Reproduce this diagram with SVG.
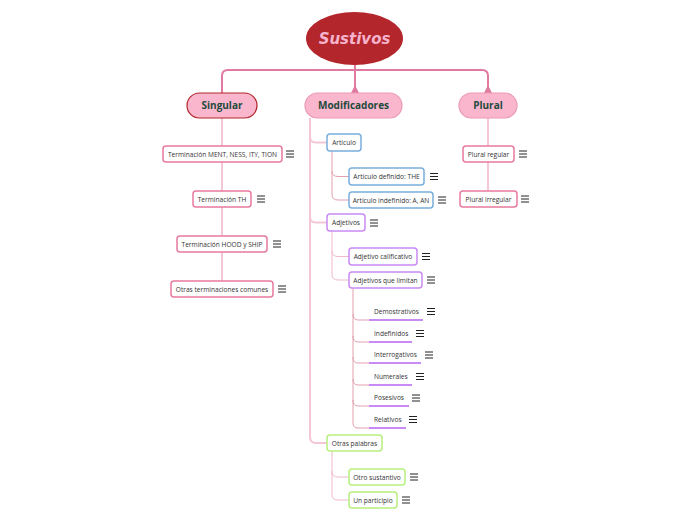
<svg xmlns="http://www.w3.org/2000/svg" width="696" height="520" viewBox="0 0 696 520">
<style>
.t{font-family:"Open Sans","Noto Sans","Liberation Sans",sans-serif;font-size:6.6px;fill:#333;}
.h{font-family:"Open Sans","Noto Sans","Liberation Sans",sans-serif;font-size:10px;font-weight:bold;fill:#1d4a3c;}
.pk{fill:#fff;stroke:#e8799f;stroke-width:1.5;}
.bl{fill:#fff;stroke:#7aaedb;stroke-width:1.5;}
.pu{fill:#fff;stroke:#c98af5;stroke-width:1.5;}
.gr{fill:#fff;stroke:#b8f07c;stroke-width:1.5;}
.ul{stroke:#c98af5;stroke-width:2;fill:none;}
.c0{stroke:#e07aa0;stroke-width:2;fill:none;}
.c1{stroke:#f5c6d6;stroke-width:2;fill:none;}
.c2{stroke:#e3a0ae;stroke-width:1;fill:none;}
.c3{stroke:#f0b8c8;stroke-width:1;fill:none;}
.m{stroke:#222;stroke-width:1;fill:none;}
</style>
<defs>
<marker id="flare" markerUnits="userSpaceOnUse" markerWidth="10" markerHeight="10" viewBox="-9 -5 10 10" refX="0" refY="0" orient="auto" overflow="visible">
<path d="M0,-4 L0,4 L-8,0 Z" fill="#e07aa0"/>
</marker>
<g id="menu"><path class="m" d="M0,-3H8M0,0H8M0,3H8"/></g>
</defs>
<rect width="696" height="520" fill="#fff"/>
<g id="connectors">
<path class="c0" d="M222,93 V76 Q222,70 228,70 H482 Q488,70 488,76 V93" marker-start="url(#flare)" marker-end="url(#flare)"/>
<path class="c0" d="M355,64 V93" marker-end="url(#flare)"/>
<path class="c1" d="M222,118 V281"/>
<path class="c1" d="M488,118 V191"/>
<path class="c1" d="M310,118 V437 Q310,443 316,443 H327 M310,137 Q310,142.5 316,142.5 H327 M310,217 Q310,222.5 316,222.5 H327"/>
<path class="c2" d="M332,151 V171 Q332,176.5 338,176.5 H349 M332,171 V194.5 Q332,200 338,200 H349"/>
<path class="c3" d="M332,231 V251 Q332,256.5 338,256.5 H349 M332,251 V274.5 Q332,280 338,280 H349"/>
<path class="c3" d="M332,451 V471.5 Q332,477 338,477 H349 M332,471 V494.5 Q332,500 338,500 H349"/>
<path class="c2" d="M353,288 V423 Q353,428 358,428 H369 M353,314 Q353,320 358,320 H369 M353,336 Q353,342 358,342 H369 M353,357 Q353,363 358,363 H369 M353,379 Q353,385 358,385 H369 M353,400 Q353,406 358,406 H369"/>
</g>
<g id="sustivos">
<ellipse cx="354.5" cy="38.5" rx="48.5" ry="26.5" fill="#b3262c"/>
<text x="354.5" y="44" text-anchor="middle" font-family="'Comic Sans MS','DejaVu Sans','Noto Sans',sans-serif" font-size="15" font-weight="bold" font-style="italic" fill="#f6b3cc">Sustivos</text>
</g>
<g id="singular">
<rect x="187" y="93" width="70" height="25" rx="12.5" fill="#f9b6cd" stroke="#b3262c" stroke-width="1.2"/>
<text class="h" x="222" y="109" text-anchor="middle">Singular</text>
</g>
<g id="modificadores">
<rect x="305" y="93" width="97" height="25" rx="12.5" fill="#f9b6cd" stroke="#eb9ab5" stroke-width="1.2"/>
<text class="h" x="353.5" y="109" text-anchor="middle">Modificadores</text>
</g>
<g id="plural">
<rect x="459" y="93" width="58" height="25" rx="12.5" fill="#f9b6cd" stroke="#eb9ab5" stroke-width="1.2"/>
<text class="h" x="488" y="109" text-anchor="middle">Plural</text>
</g>
<g id="s1"><rect class="pk" x="163" y="146" width="119" height="16" rx="3"/><text class="t" x="222.5" y="156.5" text-anchor="middle">Terminación MENT, NESS, ITY, TION</text><use href="#menu" x="286" y="154"/></g>
<g id="s2"><rect class="pk" x="193" y="191" width="58" height="16" rx="3"/><text class="t" x="222" y="201.5" text-anchor="middle">Terminación TH</text><use href="#menu" x="257" y="199"/></g>
<g id="s3"><rect class="pk" x="177" y="236" width="90" height="16" rx="3"/><text class="t" x="222" y="246.5" text-anchor="middle">Terminación HOOD y SHIP</text><use href="#menu" x="273" y="244"/></g>
<g id="s4"><rect class="pk" x="171" y="281" width="102" height="16" rx="3"/><text class="t" x="222" y="291.5" text-anchor="middle">Otras terminaciones comunes</text><use href="#menu" x="278" y="289"/></g>
<g id="articulo"><rect class="bl" x="327" y="134" width="34" height="17" rx="3"/><text class="t" x="344" y="145" text-anchor="middle">Artículo</text></g>
<g id="art-def"><rect class="bl" x="349" y="168" width="75" height="17" rx="3"/><text class="t" x="386.5" y="179" text-anchor="middle">Artículo definido: THE</text><use href="#menu" x="430" y="176.5"/></g>
<g id="art-indef"><rect class="bl" x="349" y="192" width="84" height="16" rx="3"/><text class="t" x="391" y="202.5" text-anchor="middle">Artículo indefinido: A, AN</text><use href="#menu" x="438" y="200"/></g>
<g id="adjetivos"><rect class="pu" x="327" y="214" width="38" height="17" rx="3"/><text class="t" x="346" y="225" text-anchor="middle">Adjetivos</text><use href="#menu" x="370" y="223"/></g>
<g id="adj-cal"><rect class="pu" x="349" y="248" width="68" height="17" rx="3"/><text class="t" x="383" y="259" text-anchor="middle">Adjetivo calificativo</text><use href="#menu" x="422" y="256.5"/></g>
<g id="adj-lim"><rect class="pu" x="349" y="272" width="73" height="16" rx="3"/><text class="t" x="385.5" y="282.5" text-anchor="middle">Adjetivos que limitan</text><use href="#menu" x="427" y="280"/></g>
<g id="demostrativos"><text class="t" x="374" y="314">Demostrativos</text><path class="ul" d="M369,320H423"/><use href="#menu" x="427" y="311.5"/></g>
<g id="indefinidos"><text class="t" x="374" y="336">Indefinidos</text><path class="ul" d="M369,342H412"/><use href="#menu" x="416" y="333.5"/></g>
<g id="interrogativos"><text class="t" x="374" y="357">Interrogativos</text><path class="ul" d="M369,363H421"/><use href="#menu" x="425" y="355"/></g>
<g id="numerales"><text class="t" x="374" y="379">Numerales</text><path class="ul" d="M369,385H412"/><use href="#menu" x="416" y="376.5"/></g>
<g id="posesivos"><text class="t" x="374" y="400">Posesivos</text><path class="ul" d="M369,406H409"/><use href="#menu" x="412" y="398"/></g>
<g id="relativos"><text class="t" x="374" y="422">Relativos</text><path class="ul" d="M369,428H406"/><use href="#menu" x="409" y="419.5"/></g>
<g id="otras-palabras"><rect class="gr" x="327" y="435" width="55" height="16" rx="3"/><text class="t" x="354.5" y="445.5" text-anchor="middle">Otras palabras</text></g>
<g id="otro-sustantivo"><rect class="gr" x="349" y="469" width="56" height="16" rx="3"/><text class="t" x="377" y="479.5" text-anchor="middle">Otro sustantivo</text><use href="#menu" x="410" y="477"/></g>
<g id="un-participio"><rect class="gr" x="349" y="492" width="48" height="16" rx="3"/><text class="t" x="373" y="502.5" text-anchor="middle">Un participio</text><use href="#menu" x="402" y="500"/></g>
<g id="plural-regular"><rect class="pk" x="463" y="146" width="51" height="16" rx="3"/><text class="t" x="488.5" y="156.5" text-anchor="middle">Plural regular</text><use href="#menu" x="519" y="154"/></g>
<g id="plural-irregular"><rect class="pk" x="460" y="191" width="57" height="16" rx="3"/><text class="t" x="488.5" y="201.5" text-anchor="middle">Plural irregular</text><use href="#menu" x="521" y="199"/></g>
</svg>
